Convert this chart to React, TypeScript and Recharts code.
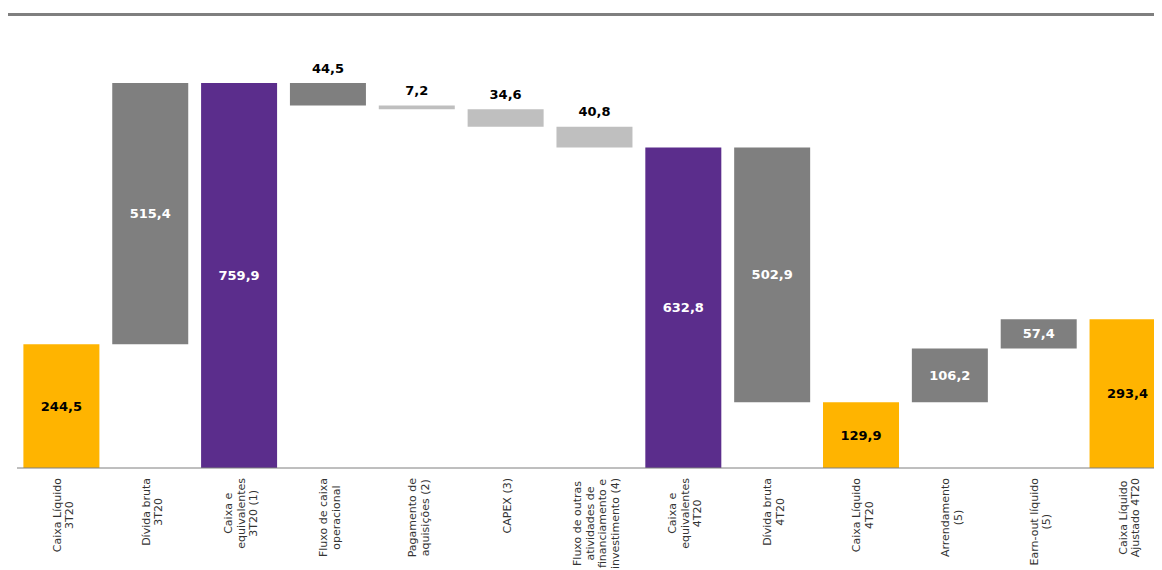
import React from 'react';
import { BarChart, Bar, XAxis, YAxis, Cell, LabelList } from 'recharts';

// --- Data ---
const categories = [
  'Caixa Líquido\n3T20',
  'Dívida bruta\n3T20',
  'Caixa e\nequivalentes\n3T20 (1)',
  'Fluxo de caixa\noperacional',
  'Pagamento de\naquisições (2)',
  'CAPEX (3)',
  'Fluxo de outras\natividades de\nfinanciamento e\ninvestimento (4)',
  'Caixa e\nequivalentes\n4T20',
  'Dívida bruta\n4T20',
  'Caixa Líquido\n4T20',
  'Arrendamento\n(5)',
  'Earn-out líquido\n(5)',
  'Caixa Líquido\nAjustado 4T20',
];

// signed change; totals start from zero
const values = [244.5, 515.4, 759.9, -44.5, -7.2, -34.6, -40.8, 632.8, -502.9, 129.9, 106.2, 57.4, 293.4];
const isTotal = [true, false, true, false, false, false, false, true, false, true, false, false, true];

const ORANGE = '#FFB400';
const GRAY = '#7F7F7F';
const LIGHT = '#BFBFBF';
const PURPLE = '#5B2D8C';
const barColors = [ORANGE, GRAY, PURPLE, GRAY, LIGHT, LIGHT, LIGHT, PURPLE, GRAY, ORANGE, GRAY, GRAY, ORANGE];
const labelColors = ['#000', '#fff', '#fff', '#000', '#000', '#000', '#000', '#fff', '#fff', '#000', '#fff', '#fff', '#000'];
const labelAbove = [false, false, false, true, true, true, true, false, false, false, false, false, false];

// build waterfall rows (invisible base + visible delta)
let running = 0;
const rows = categories.map((name, i) => {
  const v = values[i];
  let base: number;
  if (isTotal[i]) {
    base = 0;
    running = v;
  } else if (v >= 0) {
    base = running;
    running += v;
  } else {
    running += v;
    base = running;
  }
  return { name, base, delta: Math.abs(v), idx: i };
});
const yMax = Math.max(...rows.map((r) => r.base + r.delta));

const FONT = "'DejaVu Sans', Verdana, sans-serif";

let ctx: CanvasRenderingContext2D | null = null;
const measure = (s: string): number => {
  if (!ctx && typeof document !== 'undefined') {
    ctx = document.createElement('canvas').getContext('2d');
  }
  if (ctx) {
    ctx.font = `11px ${FONT}`;
    return ctx.measureText(s).width;
  }
  return s.length * 6.2;
};

const fmt = (v: number) => v.toFixed(1).replace('.', ',');

// rotated, multi-line category label; lines centred on the longest one
const CategoryTick = (props: any) => {
  const { x, y, payload } = props;
  const lines: string[] = String(payload.value).split('\n');
  const maxLen = Math.max(...lines.map(measure));
  const cy = y + 10 + maxLen / 2;
  const lineGap = 12.5;
  return (
    <g>
      {lines.map((ln, i) => {
        const cx = x + 2 + (i - (lines.length - 1) / 2) * lineGap;
        return (
          <text
            key={i}
            x={cx}
            y={cy}
            transform={`rotate(-90, ${cx}, ${cy})`}
            textAnchor="middle"
            dominantBaseline="central"
            fontFamily={FONT}
            fontSize={11}
            fill="#333"
          >
            {ln}
          </text>
        );
      })}
    </g>
  );
};

const ValueLabel = (props: any) => {
  const { x, y, width, height, index } = props;
  const i = Number(index);
  const cx = Number(x) + Number(width) / 2;
  const cy = labelAbove[i] ? Number(y) - 15 : Number(y) + Number(height) / 2;
  return (
    <text
      x={cx}
      y={cy}
      textAnchor="middle"
      dominantBaseline="central"
      fontFamily={FONT}
      fontSize={13}
      fontWeight="bold"
      fill={labelColors[i]}
    >
      {fmt(Math.abs(values[i]))}
    </text>
  );
};

export default function App() {
  return (
    <div style={{ position: 'relative', width: 1154, height: 560, overflow: 'hidden', background: '#fff' }}>
      <div style={{ position: 'absolute', left: 0, top: 5, width: '100%', height: 3, background: '#7F7F7F' }} />
      <BarChart
        width={1170}
        height={560}
        data={rows}
        margin={{ top: 75, right: 6, left: 9, bottom: 0 }}
        barCategoryGap="7.2%"
      >
        <XAxis
          dataKey="name"
          interval={0}
          height={100}
          tickLine={false}
          tickSize={0}
          tickMargin={0}
          axisLine={{ stroke: '#7F7F7F', strokeWidth: 1 }}
          tick={<CategoryTick />}
        />
        <YAxis hide domain={[0, yMax]} allowDataOverflow />
        <Bar dataKey="base" stackId="w" fill="transparent" isAnimationActive={false} />
        <Bar dataKey="delta" stackId="w" isAnimationActive={false}>
          {rows.map((r) => (
            <Cell key={r.idx} fill={barColors[r.idx]} />
          ))}
          <LabelList dataKey="delta" content={<ValueLabel />} />
        </Bar>
      </BarChart>
    </div>
  );
}
